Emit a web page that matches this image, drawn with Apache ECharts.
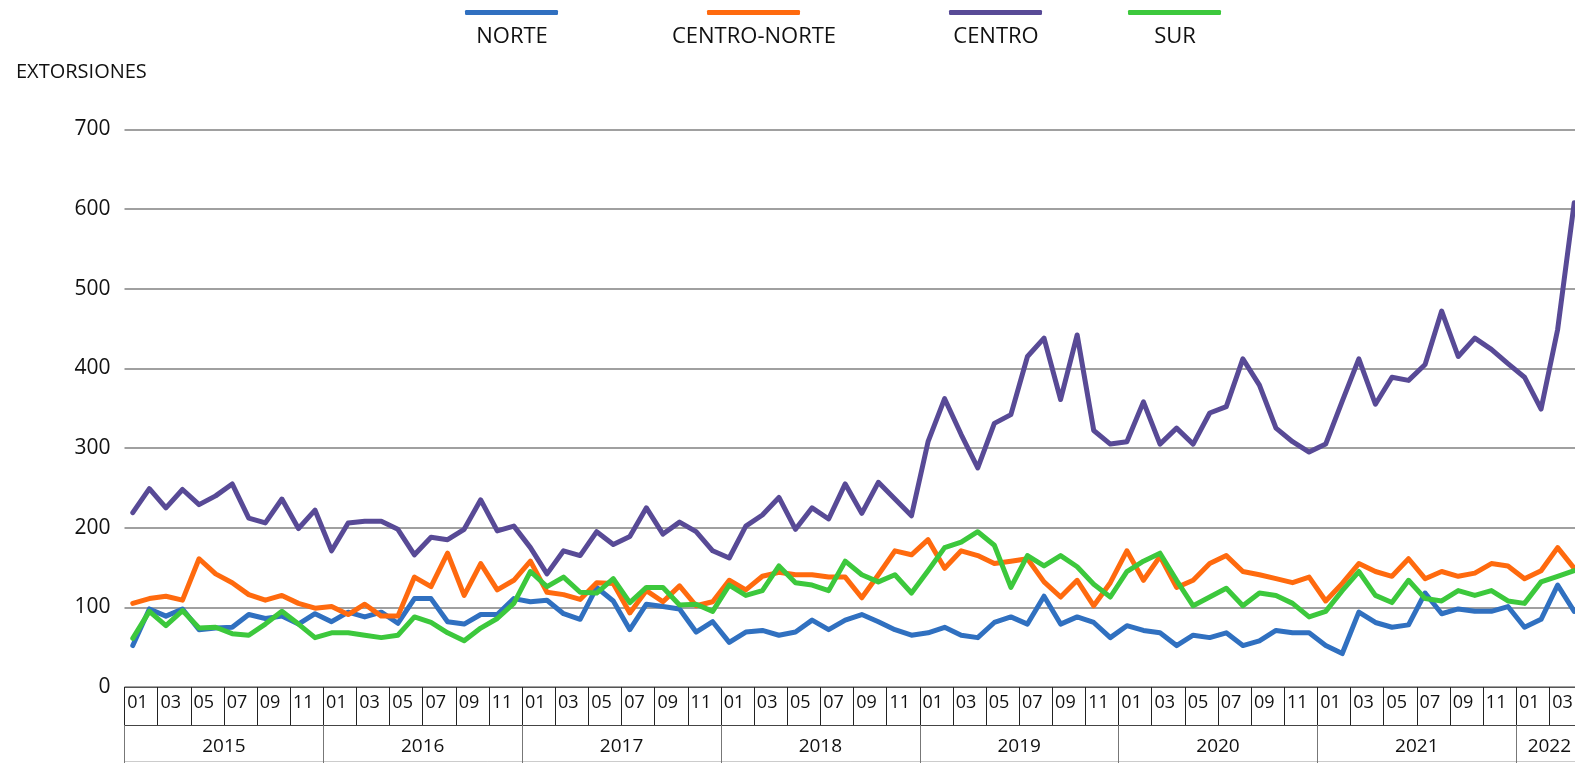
<!DOCTYPE html>
<html>
<head>
<meta charset="utf-8">
<script src="https://cdn.jsdelivr.net/npm/echarts@6/dist/echarts.min.js"></script>
<style>
  html, body { margin: 0; padding: 0; background: #fff; }
  #main { width: 1575px; height: 763px; }
</style>
</head>
<body>
<div id="main"></div>
<script>
// años y meses mostrados (2022 solo llega hasta abril)
var years = ['2015', '2016', '2017', '2018', '2019', '2020', '2021', '2022'];
var monthsPerYear = [12, 12, 12, 12, 12, 12, 12, 4];
var monthLabels = ['01', '02', '03', '04', '05', '06', '07', '08', '09', '10', '11', '12'];
var seriesNames = ['NORTE', 'CENTRO-NORTE', 'CENTRO', 'SUR'];
var seriesColors = ['#3070C0', '#FF6A0E', '#584A96', '#3CC83C'];

var norte = [
  52, 98, 89, 98, 72, 74, 75, 91, 86, 89, 79, 92,
  82, 94, 88, 94, 80, 111, 111, 82, 79, 91, 91, 111,
  107, 109, 92, 85, 125, 108, 72, 104, 101, 98, 69, 82,
  56, 69, 71, 65, 69, 84, 72, 84, 91, 82, 72, 65,
  68, 75, 65, 62, 81, 88, 79, 114, 79, 88, 81, 62,
  77, 71, 68, 52, 65, 62, 68, 52, 58, 71, 68, 68,
  52, 42, 94, 81, 75, 78, 118, 92, 98, 95, 95, 101,
  75, 85, 128, 95
];
var centroNorte = [
  105, 111, 114, 109, 161, 142, 131, 116, 109, 115, 105, 99,
  101, 91, 104, 89, 89, 138, 126, 168, 115, 155, 122, 134,
  158, 119, 116, 110, 131, 130, 93, 121, 107, 127, 102, 107,
  134, 122, 139, 144, 141, 141, 138, 138, 112, 141, 171, 166,
  185, 149, 171, 165, 155, 158, 161, 132, 113, 134, 102, 131,
  171, 134, 164, 125, 134, 155, 165, 145, 141, 136, 131, 138,
  108, 130, 155, 145, 139, 161, 136, 145, 139, 143, 155, 152,
  136, 146, 175, 149
];
var centro = [
  219, 249, 225, 248, 229, 240, 255, 212, 206, 236, 199, 222,
  171, 206, 208, 208, 198, 166, 188, 185, 198, 235, 196, 202,
  175, 142, 171, 165, 195, 179, 189, 225, 192, 207, 195, 171,
  162, 202, 216, 238, 198, 225, 211, 255, 218, 257, 236, 215,
  308, 362, 317, 275, 331, 342, 415, 438, 361, 442, 322, 305,
  308, 358, 305, 325, 305, 344, 352, 412, 379, 325, 308, 295,
  305, 359, 412, 355, 389, 385, 405, 472, 415, 438, 424, 406,
  389, 349, 449, 608
];
var sur = [
  61, 95, 77, 96, 74, 75, 67, 65, 79, 95, 79, 62,
  68, 68, 65, 62, 65, 88, 81, 68, 58, 74, 86, 105,
  145, 126, 138, 119, 118, 136, 106, 125, 125, 103, 104, 95,
  128, 115, 121, 152, 131, 128, 121, 158, 141, 132, 141, 118,
  146, 175, 182, 195, 178, 125, 165, 152, 165, 151, 129, 113,
  145, 158, 168, 134, 102, 113, 124, 102, 118, 115, 105, 88,
  95, 121, 145, 115, 106, 134, 111, 108, 121, 115, 121, 108,
  105, 132, 139, 146
];

var months = [];
years.forEach(function (y, k) {
  for (var m = 0; m < monthsPerYear[k]; m++) months.push(y + '-' + monthLabels[m]);
});
// pares de meses para la fila 01, 03, 05...
var pairs = months.filter(function (m, i) { return i % 2 === 0; });

var FONT = 'Open Sans';
var monthW = 1458 / months.length;
var legendX = [465, 707, 949, 1128];

var chart = echarts.init(document.getElementById('main'));
chart.setOption({
  animation: false,
  textStyle: { fontFamily: FONT },
  title: {
    text: 'EXTORSIONES', left: 11, top: 57,
    textStyle: { fontSize: 20, fontWeight: 'normal', color: '#111', fontFamily: FONT }
  },
  legend: seriesNames.map(function (n, i) {
    return {
      data: [n], left: legendX[i], top: 10, padding: 0,
      icon: 'roundRect', itemWidth: 93, itemHeight: 5,
      selectedMode: false, formatter: function () { return ''; }
    };
  }),
  graphic: seriesNames.map(function (n, i) {
    return {
      type: 'text', x: legendX[i] + 47, y: 37,
      style: {
        text: n, fill: '#111', font: '22px "Open Sans"',
        align: 'center', verticalAlign: 'middle'
      }
    };
  }),
  grid: { left: 124.5, top: 129.5, width: 1458, height: 557.5, outerBoundsMode: 'none' },
  xAxis: [
    {
      type: 'category', data: months, boundaryGap: true,
      axisLine: { lineStyle: { color: '#555', width: 1 } },
      axisTick: { show: false }, axisLabel: { show: false }
    },
    {
      type: 'category', data: pairs, boundaryGap: true, position: 'bottom',
      axisLine: { show: false },
      axisTick: { show: true, interval: 0, length: 38, lineStyle: { color: '#222', width: 1 } },
      axisLabel: {
        interval: 0, margin: 7, fontSize: 18, color: '#111', padding: [0, 7, 0, 0],
        formatter: function (v) { return v.slice(5); }
      }
    },
    {
      type: 'category', data: months, boundaryGap: true, position: 'bottom', offset: 38,
      axisLine: { show: true, lineStyle: { color: '#444', width: 1 } },
      axisTick: {
        show: true, length: 38, lineStyle: { color: '#777', width: 1 },
        interval: function (i) { return i % 12 === 0; }
      },
      axisLabel: {
        margin: 12, fontSize: 19, color: '#111', padding: [0, 0, 0, monthW],
        interval: function (i) { return i % 12 === 5 || i === 85; },
        formatter: function (v) { return v.slice(0, 4); }
      }
    },
    {
      type: 'category', data: months, position: 'bottom', offset: 74,
      axisLine: { lineStyle: { color: '#ccc', width: 1 } },
      axisTick: { show: false }, axisLabel: { show: false }
    }
  ],
  yAxis: {
    type: 'value', min: 0, max: 700, interval: 100,
    axisLine: { show: false }, axisTick: { show: false },
    axisLabel: { fontSize: 21, color: '#111', margin: 14 },
    splitLine: { lineStyle: { color: '#808080', width: 1.5 } }
  },
  series: [norte, centroNorte, centro, sur].map(function (d, i) {
    return {
      name: seriesNames[i], type: 'line', data: d,
      xAxisIndex: 0, yAxisIndex: 0,
      symbol: 'none', color: seriesColors[i],
      lineStyle: { width: 5, cap: 'round', join: 'round' }
    };
  })
});
</script>
</body>
</html>
